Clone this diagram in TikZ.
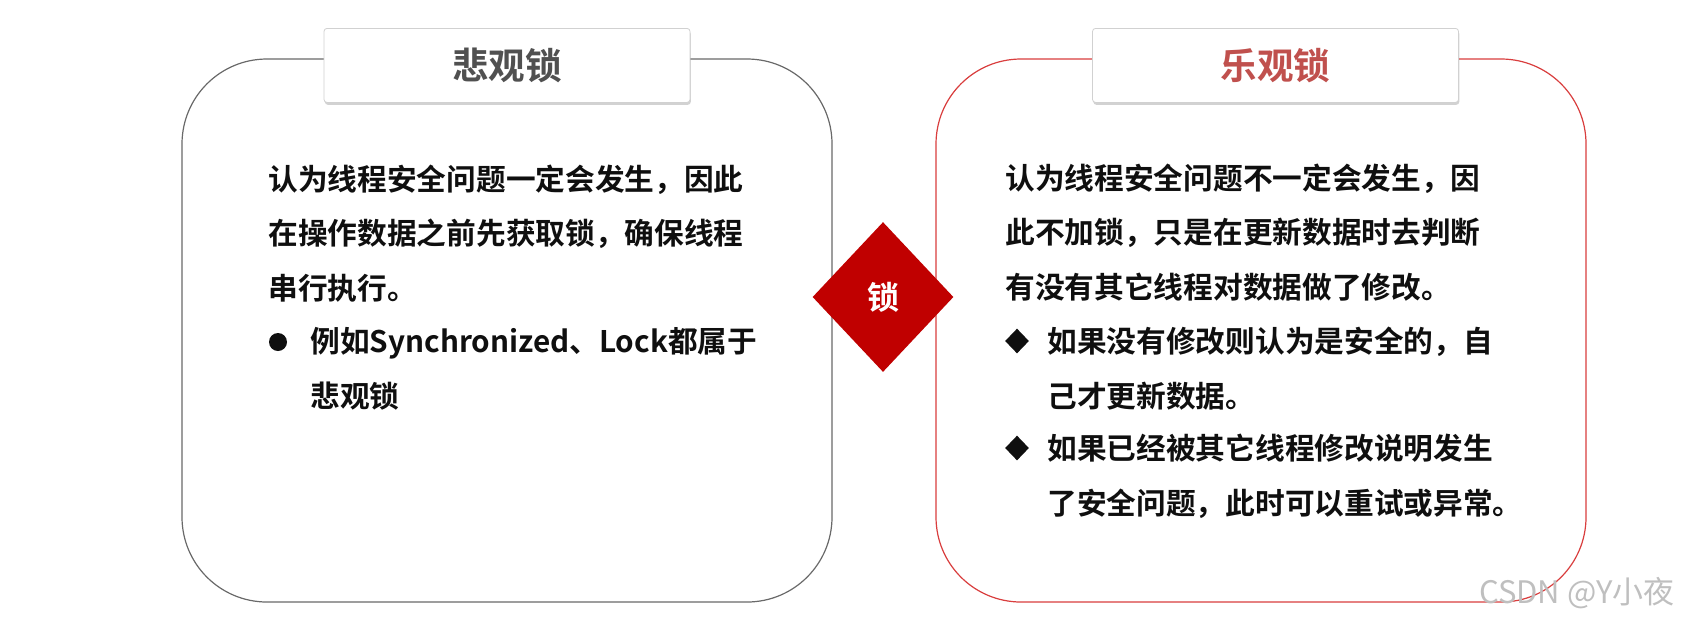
\documentclass[tikz,border=0pt]{standalone}
\usepackage{fontspec}
\usetikzlibrary{positioning,shapes.geometric,shadows}
\newfontfamily\cjk{Noto Sans CJK SC}[BoldFont={Noto Sans CJK SC Bold}]
\definecolor{pessgrey}{RGB}{105,105,105}
\definecolor{optired}{RGB}{217,62,62}
\definecolor{titlegrey}{RGB}{80,80,80}
\definecolor{titlered}{RGB}{192,80,77}
\definecolor{lockred}{RGB}{192,0,0}
\definecolor{inkdark}{RGB}{15,15,15}

\begin{document}
\begin{tikzpicture}[x=0.5pt,y=-0.5pt,
  card/.style={draw,line width=0.6pt,fill=white,rounded corners=42.5pt,
               minimum width=325pt,minimum height=271.5pt,inner sep=0pt},
  tab/.style={draw=black!18,fill=white,rounded corners=1.5pt,
              minimum width=183pt,minimum height=37pt,inner sep=0pt,
              drop shadow={shadow xshift=0.4pt,shadow yshift=-1.2pt,opacity=.35},
              font=\cjk\bfseries\fontsize{18.3}{20}\selectfont},
  body/.style={anchor=base west,inner sep=0pt,align=left,text=inkdark,
               font=\cjk\bfseries\fontsize{14.85}{27.1}\selectfont},
  dot/.style={circle,fill=inkdark,inner sep=0pt,minimum size=9pt},
  gem/.style={diamond,fill=inkdark,inner sep=0pt,minimum width=12pt,minimum height=12.5pt}]
\useasboundingbox (0,0) rectangle (1684,629);

% the two cards
\node[card,draw=pessgrey] (pess) at (507,330.5) {};
\node[card,draw=optired]  (opti) at (1261,330.5) {};

\node[tab,text=titlegrey] (ptab) at ([yshift=-3.5pt]pess.north) {悲观锁};
\node[tab,text=titlered]  (otab) at ([xshift=7.25pt,yshift=-3.5pt]opti.north) {乐观锁};

% lock in the middle
\node[diamond,fill=lockred,minimum width=70.5pt,minimum height=75pt,inner sep=0pt,
      text=white,font=\cjk\bfseries\fontsize{16}{18}\selectfont] (lock) at (883,297) {锁};

% pessimistic (base = last line)
\node[body] (ptext) at (268,299) {认为线程安全问题一定会发生，因此\\
  在操作数据之前先获取锁，确保线程\\串行执行。};
\node[dot] (pdot) at (278,342) {};
\node[body] (pitem) at (310,407) {例如Synchronized、Lock都属于\\悲观锁};

% optimistic
\node[body] (otext) at (1005,298) {认为线程安全问题不一定会发生，因\\
  此不加锁，只是在更新数据时去判断\\有没有其它线程对数据做了修改。};
\node[gem] (ogemA) at (1017,341) {};
\node[gem] (ogemB) at (1017,448) {};
\node[body] (oitemA) at (1047,407) {如果没有修改则认为是安全的，自\\己才更新数据。};
\node[body] (oitemB) at (1047,514) {如果已经被其它线程修改说明发生\\了安全问题，此时可以重试或异常。};

\node[text=black!25,font=\cjk\fontsize{15.5}{17}\selectfont,inner sep=0pt] (mark) at (1577,593) {CSDN @Y小夜};
\end{tikzpicture}
\end{document}
